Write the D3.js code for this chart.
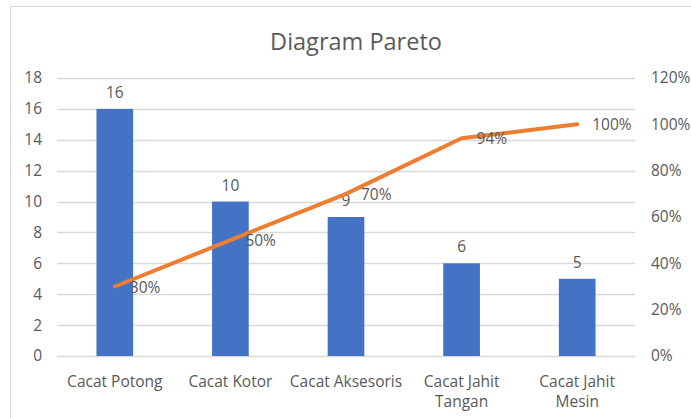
<!DOCTYPE html>
<html>
<head>
<meta charset="utf-8">
<script src="https://cdn.jsdelivr.net/npm/d3@7"></script>
<style>
  body { margin: 0; background: #fff; }
  text { font-family: "Open Sans", sans-serif; fill: #595959; }
</style>
</head>
<body>
<div id="chart"></div>
<script>
// Pareto chart: defect counts + cumulative percentage

var categories = ["Cacat Potong", "Cacat Kotor", "Cacat Aksesoris", "Cacat Jahit Tangan", "Cacat Jahit Mesin"];
var counts = [16, 10, 9, 6, 5];
var cumulative = [30, 50, 70, 94, 100];
var leftTicks = [0, 2, 4, 6, 8, 10, 12, 14, 16, 18];
var rightTicks = [0, 20, 40, 60, 80, 100, 120];

var W = 691, H = 418;
var margin = {top: 78, right: 56, bottom: 62, left: 57};
var width = 635 - margin.left,
    height = 356 - margin.top;
var fs = "15.5px";

var svg = d3.select("#chart").append("svg")
    .attr("width", W)
    .attr("height", H);

// chart area border
svg.append("rect")
    .attr("x", 10.5).attr("y", 6.5)
    .attr("width", 700).attr("height", 430)
    .attr("fill", "none")
    .attr("stroke", "#d9d9d9");

// title
svg.append("text")
    .attr("x", 356)
    .attr("y", 50)
    .attr("text-anchor", "middle")
    .style("font-size", "23.5px")
    .text("Diagram Pareto");

var g = svg.append("g")
    .attr("transform", "translate(" + margin.left + "," + margin.top + ")");

var x = d3.scaleBand()
    .domain(categories)
    .range([0, width])
    .paddingInner(0.683)
    .paddingOuter(0.34);

var xc = d3.scaleBand().domain(categories).range([0, width]);

var y = d3.scaleLinear().domain([0, 18]).range([height, 0]);
var y2 = d3.scaleLinear().domain([0, 120]).range([height, 0]);

// gridlines
g.append("g")
  .selectAll("line")
  .data(leftTicks)
  .enter().append("line")
    .attr("x1", 0).attr("x2", width)
    .attr("y1", function(d) { return Math.round(y(d)) + 0.5; })
    .attr("y2", function(d) { return Math.round(y(d)) + 0.5; })
    .attr("stroke", "#d9d9d9")
    .attr("stroke-width", 1.3);

// left axis
var la = g.append("g")
    .call(d3.axisLeft(y).tickValues(leftTicks).tickSize(0).tickPadding(15));
la.select(".domain").remove();
la.selectAll("text").style("font-size", fs).attr("fill", "#595959");

// right axis
var ra = g.append("g")
    .attr("transform", "translate(" + width + ",0)")
    .call(d3.axisRight(y2).tickValues(rightTicks).tickSize(0).tickPadding(16)
      .tickFormat(function(d) { return d + "%"; }));
ra.select(".domain").remove();
ra.selectAll("text").style("font-size", fs).attr("fill", "#595959");

// bars
g.selectAll(".bar")
  .data(counts)
  .enter().append("rect")
    .attr("class", "bar")
    .attr("x", function(d, i) { return xc(categories[i]) + xc.bandwidth() / 2 - x.bandwidth() / 2; })
    .attr("y", function(d) { return y(d); })
    .attr("width", x.bandwidth())
    .attr("height", function(d) { return height - y(d); })
    .attr("fill", "#4472c4");

// bar labels
g.selectAll(".blabel")
  .data(counts)
  .enter().append("text")
    .attr("x", function(d, i) { return xc(categories[i]) + xc.bandwidth() / 2; })
    .attr("y", function(d) { return y(d) - 11; })
    .attr("text-anchor", "middle")
    .style("font-size", fs)
    .text(function(d) { return d; });

// cumulative line
var line = d3.line()
    .x(function(d, i) { return xc(categories[i]) + xc.bandwidth() / 2; })
    .y(function(d) { return y2(d); });

g.append("path")
    .datum(cumulative)
    .attr("d", line)
    .attr("fill", "none")
    .attr("stroke", "#ed7d31")
    .attr("stroke-width", 4)
    .attr("stroke-linecap", "round")
    .attr("stroke-linejoin", "round");

// line labels
g.selectAll(".llabel")
  .data(cumulative)
  .enter().append("text")
    .attr("x", function(d, i) { return xc(categories[i]) + xc.bandwidth() / 2 + 15; })
    .attr("y", function(d) { return y2(d) + 6; })
    .style("font-size", fs)
    .text(function(d) { return d + "%"; });

// category labels (wrap two-word tails like Excel)
var wraps = [["Cacat Potong"], ["Cacat Kotor"], ["Cacat Aksesoris"], ["Cacat Jahit", "Tangan"], ["Cacat Jahit", "Mesin"]];
g.selectAll(".clabel")
  .data(categories)
  .enter().append("text")
    .attr("text-anchor", "middle")
    .style("font-size", fs)
    .attr("transform", function(d) { return "translate(" + (xc(d) + xc.bandwidth() / 2) + "," + (height + 31) + ")"; })
    .each(function(d, i) {
      var t = d3.select(this);
      wraps[i].forEach(function(s, k) {
        t.append("tspan").attr("x", 0).attr("dy", k ? 20 : 0).text(s);
      });
    });
</script>
</body>
</html>
